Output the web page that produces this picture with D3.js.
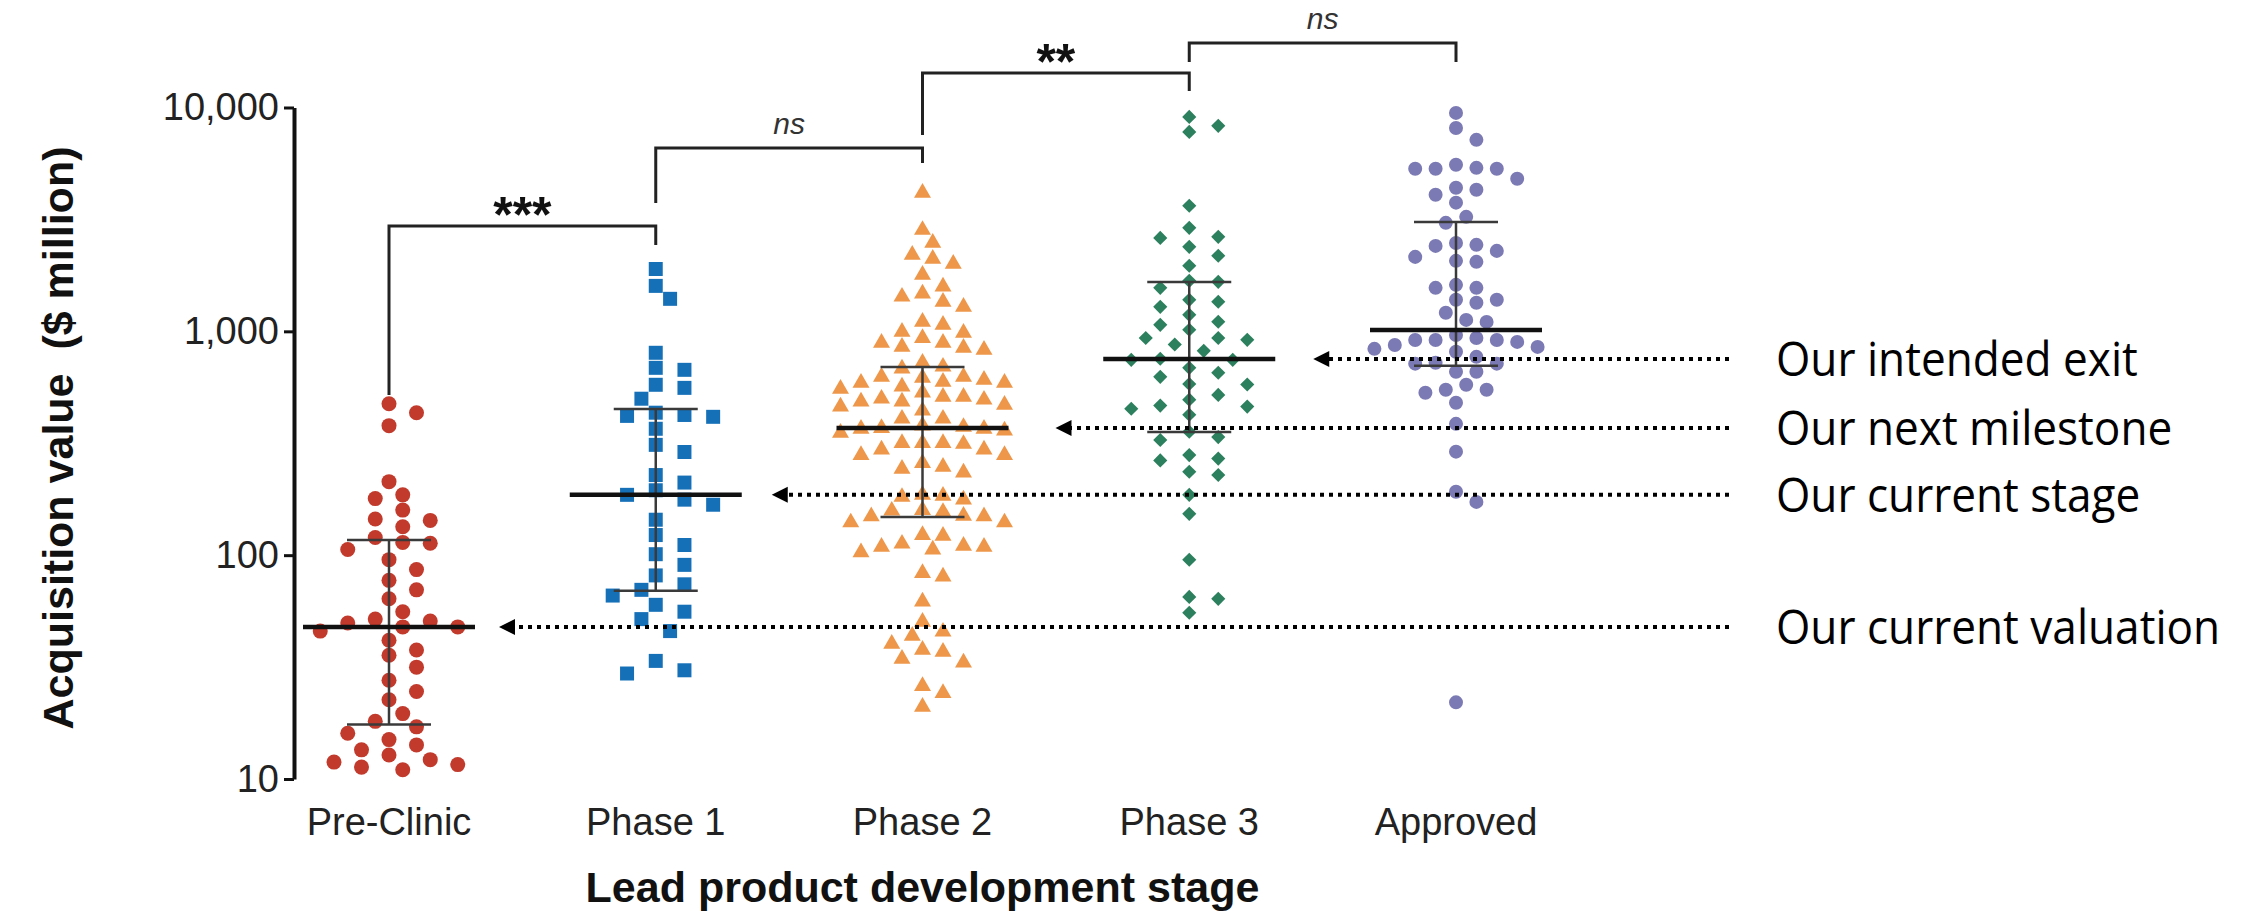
<!DOCTYPE html>
<html>
<head>
<meta charset="utf-8">
<script src="https://cdn.jsdelivr.net/npm/d3@7"></script>
<style>
  body { margin: 0; background: #fff; }
  svg { display: block; }
</style>
</head>
<body>
<svg id="chart" width="2250" height="914"></svg>
<script>
/*global d3 */

var stages = ["Pre-Clinic", "Phase 1", "Phase 2", "Phase 3", "Approved"];

// acquisition values ($ million), one per deal
var preClinic = [475, 433, 379, 213, 186, 179, 159, 145, 143, 134, 120, 114, 113, 106, 95.5, 86.2, 77.2,
  70, 63.9, 55.9, 51.8, 50.8, 49.8, 47.8, 47.8, 45.8, 41.7, 37.7, 35.7, 31.6, 27.6, 24.6, 22.6, 19.6, 18.1, 17.1,
  16.0, 15.0, 14.2, 13.5, 12.8, 12.2, 11.9, 11.6, 11.3, 11.0];
var phase1 = [1899, 1596, 1397, 802, 687, 673, 577, 559, 500, 433, 423, 419, 415, 367, 311, 289, 228, 211, 195,
  186, 177, 168, 144, 123, 111, 101, 90.5, 81.2, 74.1, 70, 66, 60, 55.9, 51.8, 45.8, 33.7, 30.6, 29.6];
var phase2 = [4157, 2838, 2483, 2196, 2003, 2108, 1790, 1583, 1473, 1428, 1355, 1287, 1103, 1069, 984, 995, 934,
  888, 888, 844, 827, 852, 724, 681, 695, 620, 626, 626, 607, 595, 589, 566, 589, 554, 532, 510, 495, 485, 500,
  485, 510, 461, 470, 442, 407, 407, 379, 367, 360, 370, 367, 352, 374, 317, 314, 317, 317, 296, 296, 280, 280,
  258, 248, 243, 234, 182, 184, 186, 177, 149, 150, 159, 156, 140, 140, 149, 158, 123, 122, 110, 106, 112.5,
  103, 109, 109, 83.2, 80.2, 62, 50.4, 43.6, 45.5, 40.2, 34.4, 37.0, 37.8, 33.1, 26.0, 24.2, 21.0];
var phase3 = [9080, 8280, 7780, 3640, 2643, 2900, 2615, 2385, 2175, 1963, 1681, 1664, 1564, 1383, 1287, 1185,
  1103, 1069, 1016, 934, 934, 916, 818, 687, 746, 746, 754, 653, 626, 582, 495, 520, 461, 451, 466, 424, 356,
  327, 337, 265, 280, 270, 228, 236, 186, 153, 95.4, 65.1, 63.8, 55.3, 1355, 873, 579];
var approved = [9460, 8100, 7170, 5545, 5325, 5325, 5376, 4806, 4381, 4078, 3758, 3247, 3052, 2483, 2408, 2288,
  2065, 2151, 1564, 1613, 1564, 1341, 1210, 1125, 1102, 897, 852, 933, 963, 869, 915, 810, 835, 769, 724, 717,
  660, 660, 532, 548, 548, 480, 386, 290, 192, 173, 22, 5325, 4290, 2434, 2044, 1383, 915, 717, 577, 915, 1383];

var medians = [47.8, 186, 370, 753, 1014];
var lowerQuartiles = [17.5, 69.3, 148, 355, 701];
var upperQuartiles = [117, 450, 693, 1662, 3081];

var yTicks = [10, 100, 1000, 10000];

var comparisons = [
  ["Pre-Clinic", "Phase 1", "***"],
  ["Phase 1", "Phase 2", "ns"],
  ["Phase 2", "Phase 3", "**"],
  ["Phase 3", "Approved", "ns"]
];

var notes = [
  ["Phase 3", "Our intended exit"],
  ["Phase 2", "Our next milestone"],
  ["Phase 1", "Our current stage"],
  ["Pre-Clinic", "Our current valuation"]
];

var groups = [preClinic, phase1, phase2, phase3, approved];

// look of each column: marker, colour, horizontal spread step
var markers = [
  { shape: d3.symbolCircle, size: 177, rotate: 0, color: "#C13A2C", step: 27.5 },
  { shape: d3.symbolSquare, size: 196, rotate: 0, color: "#1670B8", step: 28.7 },
  { shape: d3.symbolTriangle, size: 125, rotate: 0, color: "#EE974A", step: 20.5 },
  { shape: d3.symbolSquare, size: 100, rotate: 45, color: "#2C805E", step: 29 },
  { shape: d3.symbolCircle, size: 154, rotate: 0, color: "#7C7AB4", step: 20.4 }
];

// bracket heights (px): bar, left leg end, right leg end
var bracketLayout = [[226, 395, 245], [148, 203, 163], [73, 135, 91], [43, 62, 62]];
// how far right of each column the hand-drawn arrow tips stop (px)
var noteTips = [124, 133, 116, 110];

var width = 2250, height = 914;
var axisX = 294;
var svg = d3.select("#chart");
svg.append("rect").attr("width", width).attr("height", height).attr("fill", "#fff");

var x = d3.scalePoint().domain(stages).range([389, 1456]);
var y = d3.scaleLog().domain([10, 10000]).range([779, 107.5]);

var font = "'Liberation Sans', Arial, sans-serif";

// simple beeswarm: push a point sideways (half steps) until it clears the others
function swarm(values, step, dmin) {
  var pts = values.map(function(v) { return { v: v, y: y(v) }; })
    .sort(function(a, b) { return a.y - b.y; });
  var offsets = [0];
  for (var k = 0.5; k <= 10; k += 0.5) { offsets.push(k, -k); }
  var placed = [];
  pts.forEach(function(p) {
    for (var i = 0; i < offsets.length; i++) {
      var dx = offsets[i] * step;
      var hit = placed.some(function(q) {
        var ex = (q.dx - dx) / step;
        var ey = (q.y - p.y) / dmin;
        return ex * ex + ey * ey < 0.98;
      });
      if (!hit) { p.dx = dx; break; }
    }
    placed.push(p);
  });
  return pts;
}

// points
groups.forEach(function(values, i) {
  var m = markers[i];
  var pts = swarm(values, m.step, 15);
  var sym = d3.symbol().type(m.shape).size(m.size);
  svg.append("g")
    .selectAll("path")
    .data(pts)
    .enter()
    .append("path")
    .attr("d", sym)
    .attr("transform", function(d) {
      return "translate(" + (x(stages[i]) + d.dx) + "," + d.y + ") rotate(" + m.rotate + ")";
    })
    .attr("fill", m.color);
});

// median and interquartile range
var bars = svg.append("g");
stages.forEach(function(s, i) {
  var cx = x(s);
  bars.append("line")
    .attr("x1", cx).attr("x2", cx)
    .attr("y1", y(lowerQuartiles[i])).attr("y2", y(upperQuartiles[i]))
    .attr("stroke", "#3a3a3a").attr("stroke-width", 2.5);
  [lowerQuartiles[i], upperQuartiles[i]].forEach(function(q) {
    bars.append("line")
      .attr("x1", cx - 42).attr("x2", cx + 42)
      .attr("y1", y(q)).attr("y2", y(q))
      .attr("stroke", "#3a3a3a").attr("stroke-width", 2.5);
  });
  bars.append("line")
    .attr("x1", cx - 86).attr("x2", cx + 86)
    .attr("y1", y(medians[i])).attr("y2", y(medians[i]))
    .attr("stroke", "#111").attr("stroke-width", 4.5);
});

// y axis
var yAxis = d3.axisLeft(y)
  .tickValues(yTicks)
  .tickFormat(d3.format(","))
  .tickSize(10)
  .tickSizeOuter(0);

var ag = svg.append("g")
  .attr("transform", "translate(" + axisX + ",0)")
  .call(yAxis);
ag.select(".domain").attr("stroke", "#111").attr("stroke-width", 4);
ag.selectAll(".tick line").attr("stroke", "#111").attr("stroke-width", 3);
ag.selectAll(".tick text")
  .attr("x", -15)
  .attr("font-family", font)
  .attr("font-size", 38)
  .attr("fill", "#222");

svg.append("text")
  .attr("transform", "translate(73,438) rotate(-90)")
  .attr("text-anchor", "middle")
  .attr("font-family", font)
  .attr("font-weight", "bold")
  .attr("font-size", 43)
  .attr("fill", "#111")
  .style("white-space", "pre")
  .text("Acquisition value  ($ million)");

// x labels
svg.append("g")
  .selectAll("text")
  .data(stages)
  .enter()
  .append("text")
  .attr("x", function(d) { return x(d); })
  .attr("y", 835)
  .attr("text-anchor", "middle")
  .attr("font-family", font)
  .attr("font-size", 38)
  .attr("fill", "#222")
  .text(function(d) { return d; });

svg.append("text")
  .attr("x", x("Phase 2"))
  .attr("y", 902)
  .attr("text-anchor", "middle")
  .attr("font-family", font)
  .attr("font-weight", "bold")
  .attr("font-size", 43)
  .attr("fill", "#111")
  .text("Lead product development stage");

// significance brackets
var br = svg.append("g");
comparisons.forEach(function(c, i) {
  var lay = bracketLayout[i];
  var xa = x(c[0]), xb = x(c[1]);
  br.append("path")
    .attr("d", "M" + xa + "," + lay[1] + "V" + lay[0] + "H" + xb + "V" + lay[2])
    .attr("fill", "none")
    .attr("stroke", "#222")
    .attr("stroke-width", 3);
  var isNs = c[2] === "ns";
  br.append("text")
    .attr("x", (xa + xb) / 2)
    .attr("y", isNs ? lay[0] - 14 : lay[0] + 6)
    .attr("text-anchor", "middle")
    .attr("font-family", font)
    .attr("font-weight", isNs ? "normal" : "bold")
    .attr("font-style", isNs ? "italic" : "normal")
    .attr("font-size", isNs ? 30 : 50)
    .attr("fill", isNs ? "#333" : "#111")
    .text(c[2]);
});

// annotation arrows
var ng = svg.append("g");
notes.forEach(function(n, k) {
  var i = stages.indexOf(n[0]);
  var ly = y(medians[i]);
  var tip = x(n[0]) + noteTips[k];
  ng.append("line")
    .attr("x1", 1729).attr("x2", tip + 14)
    .attr("y1", ly).attr("y2", ly)
    .attr("stroke", "#000")
    .attr("stroke-width", 4)
    .attr("stroke-dasharray", "4,5");
  ng.append("path")
    .attr("d", "M" + tip + "," + ly + "L" + (tip + 16) + "," + (ly - 8) + "L" + (tip + 16) + "," + (ly + 8) + "Z")
    .attr("fill", "#000");
  ng.append("text")
    .attr("transform", "translate(1776," + (ly + 17) + ") scale(0.92,1)")
    .attr("font-family", "'Open Sans', 'Liberation Sans', sans-serif")
    .attr("font-size", 48)
    .attr("fill", "#000")
    .text(n[1]);
});
</script>
</body>
</html>
